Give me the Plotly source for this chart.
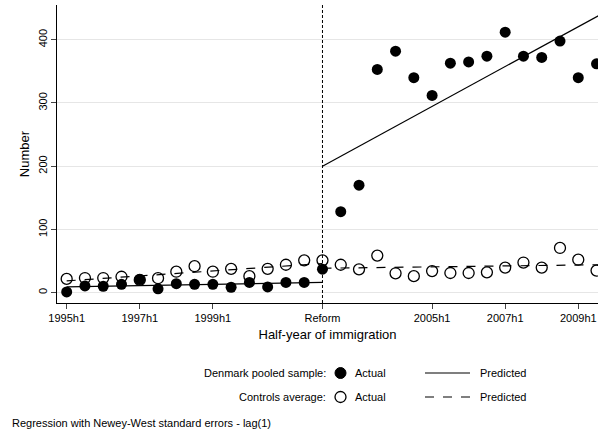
import plotly.graph_objects as go

idx = list(range(30))
treat = [1, 10.5, 10, 13, 20.6, 6, 14, 13, 13, 8.4, 16, 9, 16, 16, 37,
         128, 170, 353, 382, 340, 312, 363, 365, 374, 412, 374, 372, 398, 340, 362]
ctrl = [21.6, 23, 23, 25, 20, 22.7, 33, 41.7, 33, 37.5, 26, 37.5, 44, 51, 51,
        44, 36.8, 58.5, 30.5, 26, 34, 31, 31, 32, 39.5, 47.5, 39.5, 70.6, 52, 34.8]
pred_t_pre_x = [0, 14]; pred_t_pre = [9, 16]
pred_t_post_x = [14, 29.1]; pred_t_post = [200, 438]
pred_c_pre_x = [0, 14]; pred_c_pre = [18.5, 46]
pred_c_post_x = [14, 29.1]; pred_c_post = [38.5, 44]
tick_idx = [0, 4, 8, 14, 20, 24, 28]
tick_lab = ["1995h1", "1997h1", "1999h1", "Reform", "2005h1", "2007h1", "2009h1"]

fig = go.Figure()
for xs, ys, d in [(pred_t_pre_x, pred_t_pre, "solid"), (pred_t_post_x, pred_t_post, "solid"),
                  (pred_c_pre_x, pred_c_pre, "dash"), (pred_c_post_x, pred_c_post, "dash")]:
    fig.add_trace(go.Scatter(x=xs, y=ys, mode="lines", line=dict(color="black", width=1.2, dash=d),
                             showlegend=False))
fig.add_trace(go.Scatter(x=idx, y=ctrl, mode="markers", showlegend=False,
                         marker=dict(symbol="circle-open", size=11, color="black", line=dict(width=1.3))))
fig.add_trace(go.Scatter(x=idx, y=treat, mode="markers", showlegend=False,
                         marker=dict(symbol="circle", size=11, color="black")))
fig.add_vline(x=14, line=dict(color="black", width=1, dash="3px,2px"))

fnt = dict(family="Liberation Sans, Arial", size=11, color="black")
L, R, T, B = 57, 598, 5, 303
fig.update_layout(
    width=598, height=434, margin=dict(l=L, r=598 - R, t=T, b=434 - B),
    plot_bgcolor="white", paper_bgcolor="white", font=fnt,
    xaxis=dict(range=[-0.53, 29.08], tickvals=tick_idx, ticktext=tick_lab, showgrid=False,
               ticks="outside", ticklen=5, showline=True, linecolor="black", zeroline=False,
               automargin=False, ticklabeloverflow="allow",
               title=dict(text="Half-year of immigration", standoff=6)),
    yaxis=dict(range=[-16.5, 455], tickvals=[0, 100, 200, 300, 400], tickangle=-90,
               showgrid=True, gridcolor="#e6e6e6", ticks="outside", ticklen=5, showline=True,
               linecolor="black", zeroline=False, automargin=False,
               title=dict(text="Number", standoff=4)),
)
def px(x): return (x - L) / (R - L)
def py(y): return 1 - (y - T) / (B - T)
ann = [
    ("Denmark pooled sample:", 328, 373, "right"), ("Actual", 353, 373, "left"), ("Predicted", 478, 373, "left"),
    ("Controls average:", 328, 397, "right"), ("Actual", 353, 397, "left"), ("Predicted", 478, 397, "left"),
    ("Regression with Newey-West standard errors - lag(1)", 10, 423, "left"),
]
for t, x, y, a in ann:
    fig.add_annotation(text=t, x=px(x), y=py(y), xref="paper", yref="paper",
                       xanchor=a, yanchor="middle", showarrow=False, font=fnt)
fig.add_shape(type="circle", xref="paper", yref="paper", x0=px(335), x1=px(346), y0=py(378.5), y1=py(367.5),
              fillcolor="black", line=dict(color="black", width=1))
fig.add_shape(type="circle", xref="paper", yref="paper", x0=px(335), x1=px(346), y0=py(402.5), y1=py(391.5),
              fillcolor="white", line=dict(color="black", width=1.3))
fig.add_shape(type="line", xref="paper", yref="paper", x0=px(425), x1=px(470), y0=py(373), y1=py(373),
              line=dict(color="black", width=1.2))
fig.add_shape(type="line", xref="paper", yref="paper", x0=px(425), x1=px(470), y0=py(397), y1=py(397),
              line=dict(color="black", width=1.2, dash="dash"))
fig.write_html("out.html", config={"displayModeBar": False})
with open("out.html", encoding="utf-8") as f:
    html = f.read()
html = html.replace("<head>", "<head><style>html,body{margin:0;padding:0;overflow:hidden}</style>", 1)
with open("out.html", "w", encoding="utf-8") as f:
    f.write(html)
